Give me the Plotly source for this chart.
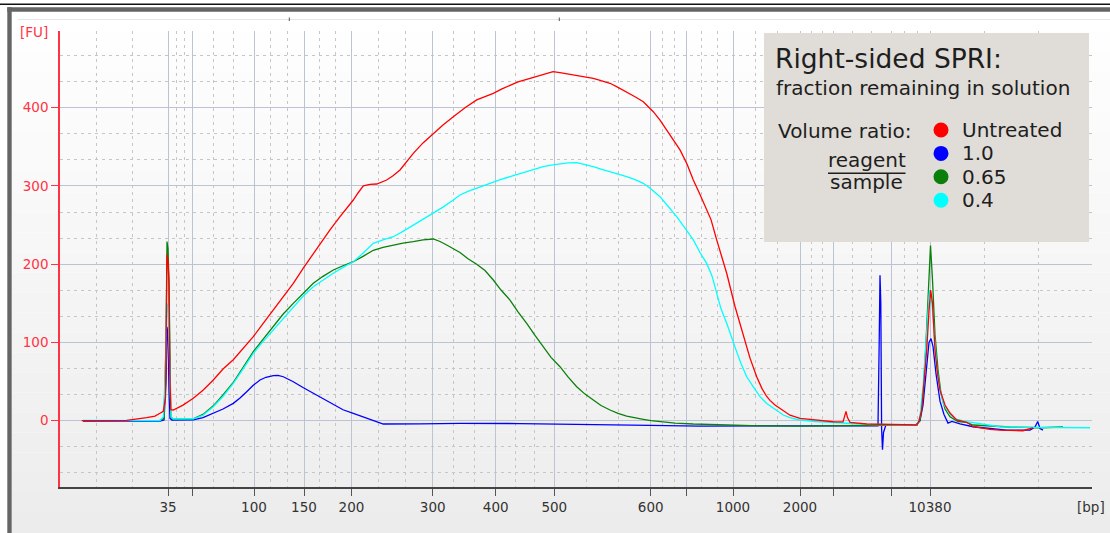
import plotly.graph_objects as go

# ---------------- data (migration time [s], fluorescence [FU]) ----------------
untreated = [(8.17,0),(10.0,0),(12.67,0.5),(14.67,3.9),(15.5,6),(16.0,9.5),(16.33,12),(16.55,30),(16.63,160),
    (16.7,212),(16.8,205),(16.9,175),(16.98,60),(17.08,14),(17.33,13.7),(18.3,20),(19.33,28.6),(20.3,39),(21.33,52),
    (22.3,66),(23.33,78),(24.3,92),(25.33,107.4),(26.3,124),(27.33,141.5),(28.3,158),(29.33,175.6),(30.33,195),
    (31.2,211),(32.0,226.7),(33.0,244),(34.0,260.7),(34.8,273),(35.33,282),(35.8,291),(36.33,300),(37.0,302),
    (37.67,302.5),(38.67,307.6),(39.3,313),(40.0,320.4),(40.6,330),(41.33,341.7),(42.3,355),(43.33,367.3),
    (44.3,378),(45.33,388.5),(46.5,400),(47.67,410),(48.5,414),(49.33,418.4),(50.2,424),(51.0,429),(51.8,433),
    (52.67,436.3),(53.6,440),(54.67,444),(55.3,446),(56.0,444.8),(56.8,443),(57.67,441.8),(58.5,440),(59.33,437.6),
    (60.1,434.5),(61.0,431.2),(61.8,426),(62.67,420.4),(63.5,414),(64.33,407.7),(65.33,394.9),(66.0,384),
    (66.67,371.5),(67.3,359),(68.0,346),(68.7,328),(69.33,307.6),(70.0,289),(70.67,269.3),(71.1,257),(71.67,231),
    (72.1,212),(72.67,188.4),(73.5,146),(74.1,120),(74.67,94.6),(75.0,80),(75.67,56.2),(76.2,41),(76.67,31),
    (77.0,26),(77.5,20),(78.0,15.8),(78.33,12),(79.0,7),(80.0,3.1),(81.5,1),(83.33,-1.3),(84.3,-1.5),(84.5,6),
    (84.6,12),(84.75,4),(85.0,-2),(86.67,-4.2),(89.0,-5),(91.0,-5.5),(91.7,-5.5),(91.9,0),(92.17,13.7),(92.4,50),
    (92.67,90),(92.9,140),(93.07,167),(93.25,150),(93.5,90),(93.75,60),(94.0,39),(94.5,20),(95.0,9.8),(95.67,1),
    (96.67,-2),(97.33,-7.7),(99.0,-11),(100.0,-11.9),(101.0,-12.5),(102.3,-12.8),(103.0,-10),(103.3,-9)]

ratio_1_0 = [(8.3,-0.5),(10.0,-0.5),(14.0,-0.8),(16.0,-0.4),(16.4,1),(16.6,50),(16.7,120),(16.8,110),(16.9,40),
    (17.0,3),(17.2,0.9),(19.33,1.2),(20.3,4),(21.33,9.5),(22.3,15),(23.33,22.2),(24.0,29),(24.67,37.1),(25.3,45),
    (26.0,52),(26.6,55.5),(27.33,57.5),(27.8,57.8),(28.33,56.2),(29.33,49.8),(30.3,42.5),(31.33,35),(32.3,27.5),
    (33.33,20),(34.3,14),(35.33,9.5),(36.3,5),(37.33,0.9),(37.8,-2),(38.33,-4.2),(42.0,-4),(46.0,-3.4),(52.0,-3.6),
    (56.0,-4.5),(60.0,-5.5),(65.0,-6),(70.0,-6.8),(76.0,-7),(80.0,-7),(85.0,-6.8),(87.8,-6.5),(87.92,100),
    (88.0,186),(88.08,150),(88.16,-10),(88.25,-37),(88.35,-15),(88.6,-5),(90.0,-5.5),(91.6,-5.5),(92.0,0),
    (92.3,20),(92.6,60),(92.9,100),(93.1,105),(93.3,95),(93.6,60),(94.0,25),(94.4,8),(94.8,-3),(95.2,-1),
    (96.0,-4),(97.3,-7.7),(99.0,-10),(100.67,-12),(103.0,-12),(103.5,-8),(103.77,-1),(104.0,-10),(104.3,-12)]

ratio_0_65 = [(8.3,0),(10.0,0),(14.0,0),(16.0,0.5),(16.4,3),(16.6,100),(16.7,229),(16.8,220),(16.9,178),
    (16.98,100),(17.08,5),(17.3,2),(19.33,2.5),(20.3,8),(21.33,19),(22.3,33),(23.33,49),(24.3,68),(25.33,88.2),
    (26.3,104),(27.33,120),(28.3,136),(29.33,150),(30.3,163),(31.33,175.6),(32.3,184.5),(33.33,192.6),(34.3,198),
    (35.33,203.2),(36.3,210),(37.33,217.8),(38.3,221.5),(39.33,224.5),(40.3,227),(41.33,228.8),(42.3,231),
    (43.33,232.2),(44.0,229),(44.67,224.5),(45.3,220),(46.0,215),(46.8,207),(47.67,200),(48.5,192),(49.33,179.8),
    (50.1,167),(51.0,154.2),(51.8,139),(52.67,124.5),(53.5,109),(54.33,94.6),(55.1,81),(56.0,69),(56.8,56),
    (57.67,43.5),(58.5,34),(59.33,26.5),(60.1,19.5),(61.0,13.7),(61.8,9.5),(62.67,6),(63.5,3.5),(64.33,1.8),
    (65.1,0),(66.0,-1.3),(67.5,-3),(69.33,-4.2),(72.0,-5.5),(76.0,-6.5),(80.0,-6.8),(85.0,-6.5),(90.0,-5.5),
    (91.6,-5.5),(92.0,0),(92.3,30),(92.6,100),(92.85,180),(93.05,224),(93.25,180),(93.5,110),(93.8,65),(94.1,35),
    (94.5,15),(95.0,5),(95.8,-1),(96.67,-2),(97.3,-5.5),(99.0,-7),(101.0,-8),(104.0,-9),(106.3,-8)]

ratio_0_4 = [(8.3,0.5),(10.0,0.5),(14.0,0),(16.0,0),(16.35,5),(16.55,70),(16.7,150),(16.8,145),(16.9,100),
    (17.0,30),(17.1,5.1),(17.33,2.2),(19.33,2.5),(20.3,7),(21.33,17.9),(22.3,31),(23.33,47.8),(24.3,66),
    (25.33,86.1),(26.3,101),(27.33,116),(28.3,131),(29.33,145.7),(30.3,159),(31.33,171.2),(32.3,180),
    (33.33,188.4),(34.3,196),(35.33,203.2),(36.3,214),(37.33,226.7),(38.3,231),(39.33,235.1),(40.3,242),
    (41.33,250.1),(42.3,258),(43.33,265),(44.3,273),(45.33,282),(46.0,288.4),(46.8,293),(47.67,297),(48.5,301),
    (49.33,305.4),(50.1,308.5),(51.0,311.8),(51.8,315),(52.67,318.2),(53.5,321.5),(54.33,324.6),(55.1,326.5),
    (56.0,328),(56.8,329.5),(57.67,329.7),(58.5,327.5),(59.33,324.6),(60.1,321.5),(61.0,318.2),(61.8,315),
    (62.67,311.8),(63.5,308),(64.33,303.4),(65.1,296),(66.0,286.3),(66.8,274),(67.67,260.7),(68.5,246),
    (69.33,231),(70.0,215),(70.67,201),(71.2,185),(71.67,162),(72.1,143),(72.67,124.5),(73.1,108),(73.67,88),
    (74.1,73),(74.67,56.2),(75.3,44),(76.0,30.7),(76.67,22),(77.67,13.7),(78.33,7.3),(79.0,4),(80.0,0.9),
    (81.5,-1),(83.33,-2.5),(86.6,-4.5),(90.0,-5.5),(91.7,-5.5),(92.0,5),(92.33,47.8),(92.65,110),(92.95,167),
    (93.2,150),(93.45,100),(93.67,69),(94.0,40),(94.33,22),(95.0,8),(95.6,2),(96.67,-1.3),(98.0,-4),
    (100.0,-7.7),(103.0,-8.5),(106.0,-9),(109.0,-9)]

# ladder positions (migration time) and their size labels [bp]
ladder_times = [16.8, 19.27, 25.4, 30.4, 35.15, 43.27, 49.57, 55.43, 65.07, 68.6, 73.3, 80.0, 83.33, 89.1, 93.0]
ladder_labels = ['35', '', '100', '150', '200', '300', '400', '500', '600', '', '1000', '2000', '', '', '10380']
fu_ticks = [0, 100, 200, 300, 400]

series_names = ['1.0', '0.65', '0.4', 'Untreated']
series_data = [ratio_1_0, ratio_0_65, ratio_0_4, untreated]
series_colors = ['#0000ff', '#0a800a', '#00ffff', '#ff0000']
legend_order = ['Untreated', '1.0', '0.65', '0.4']

# ---------------- layout geometry ----------------
W, H = 1110, 533
L, R, T, B = 60, 18, 31, 46
PW, PH = W - L - R, H - T - B
X_RANGE = [6.0, 109.2]
Y_RANGE = [-84.7, 498.0]


def px(x):
    return (x - L) / PW


def py(y):
    return (H - B - y) / PH


fig = go.Figure()
for name, data, color in zip(series_names, series_data, series_colors):
    fig.add_trace(go.Scatter(x=[p[0] for p in data], y=[p[1] for p in data], mode='lines', name=name,
                             line=dict(color=color, width=1.3), hoverinfo='skip'))

# minor grid: thirds of each ladder interval
edges = [X_RANGE[0]] + ladder_times + [X_RANGE[1]]
x_minor = []
for a, b in zip(edges[:-1], edges[1:]):
    x_minor += [a + (b - a) / 3, a + 2 * (b - a) / 3]
x_minor.append(X_RANGE[1] - 0.01)
y_minor = [k * 100 / 3 for k in range(-2, 15) if k % 3 != 0]

grid_major = '#bcc3d2'
grid_minor = '#c6c6c6'

shapes = []
# panel background gradient
n = 26
top, bot = 12, 533
for i in range(n):
    y0 = top + (bot - top) * i / n
    y1 = top + (bot - top) * (i + 1) / n
    c = int(round(255 - (255 - 236) * (i + 0.5) / n))
    shapes.append(dict(type='rect', xref='paper', yref='paper', x0=px(12), x1=px(W), y0=py(y1), y1=py(y0),
                       fillcolor=f'rgb({c},{c},{c})', line=dict(width=0), layer='below'))
# window frame
shapes.append(dict(type='rect', xref='paper', yref='paper', x0=px(0), x1=px(W), y0=py(5.0), y1=py(3.6),
                   fillcolor='#111111', line=dict(width=0), layer='below'))
shapes.append(dict(type='rect', xref='paper', yref='paper', x0=px(7.3), x1=px(W), y0=py(11.7), y1=py(7.3),
                   fillcolor='#656565', line=dict(width=0), layer='below'))
shapes.append(dict(type='rect', xref='paper', yref='paper', x0=px(7.3), x1=px(11.7), y0=py(H), y1=py(7.3),
                   fillcolor='#656565', line=dict(width=0), layer='below'))
shapes.append(dict(type='line', xref='paper', yref='paper', x0=px(18), x1=px(W), y0=py(19.5), y1=py(19.5),
                   line=dict(color='#e6e6e6', width=1), layer='below'))
for mx in (289.3, 559.3):
    shapes.append(dict(type='line', xref='paper', yref='paper', x0=px(mx), x1=px(mx), y0=py(21), y1=py(17.5),
                       line=dict(color='#555555', width=1), layer='below'))

# legend box
shapes.append(dict(type='rect', xref='paper', yref='paper', x0=px(764), x1=px(1089), y0=py(242), y1=py(33),
                   fillcolor='#e0dcd7', line=dict(width=0), layer='above'))
shapes.append(dict(type='line', xref='paper', yref='paper', x0=px(828), x1=px(905.5), y0=py(173.3), y1=py(173.3),
                   line=dict(color='#1e1e1e', width=1.5), layer='above'))
color_of = dict(zip(series_names, series_colors))
rx, ry = 7.5 / PW, 7.5 / PH
ann = []
for i, name in enumerate(legend_order):
    cy = 130 + i * 23.4
    shapes.append(dict(type='circle', xref='paper', yref='paper', x0=px(941) - rx, x1=px(941) + rx,
                       y0=py(cy) - ry, y1=py(cy) + ry, fillcolor=color_of[name], line=dict(width=0),
                       layer='above'))
    ann.append(dict(text=name, x=px(961), y=py(cy), xanchor='left', yanchor='middle'))

txt = '#1e1e1e'
ann_full = [
    dict(text='Right-sided SPRI:', x=px(774), y=py(59), xanchor='left', yanchor='middle', font=dict(size=26.5, color=txt)),
    dict(text='fraction remaining in solution', x=px(775), y=py(88), xanchor='left', yanchor='middle'),
    dict(text='Volume ratio:', x=px(777), y=py(130.7), xanchor='left', yanchor='middle'),
    dict(text='reagent', x=px(867), y=py(159.7), xanchor='center', yanchor='middle'),
    dict(text='sample', x=px(866), y=py(182), xanchor='center', yanchor='middle'),
] + ann
for a in ann_full:
    a.setdefault('font', dict(size=20, color=txt))
    a.update(xref='paper', yref='paper', showarrow=False, borderpad=0)
ann_full.append(dict(text='[FU]', x=px(50), y=py(31.5), xref='paper', yref='paper', xanchor='right',
                     yanchor='middle', showarrow=False, font=dict(size=13.5, color='#ff3344')))
ann_full.append(dict(text='[bp]', x=px(1091), y=py(507), xref='paper', yref='paper', xanchor='center',
                     yanchor='middle', showarrow=False, font=dict(size=13.5, color='#333333')))

fig.update_layout(
    width=W, height=H, margin=dict(l=L, r=R, t=T, b=B, pad=0, autoexpand=False),
    paper_bgcolor='white', plot_bgcolor='rgba(0,0,0,0)', showlegend=False,
    font=dict(family='DejaVu Sans'),
    shapes=shapes, annotations=ann_full,
    xaxis=dict(range=X_RANGE, tickmode='array', tickvals=ladder_times, ticktext=ladder_labels,
               ticks='outside', ticklen=7, tickwidth=1.2, tickcolor='#555555',
               showline=True, linecolor='#444444', linewidth=1.5,
               showgrid=True, gridcolor=grid_major, gridwidth=1.4, zeroline=False,
               tickfont=dict(size=13.5, color='#333333'),
               minor=dict(tickmode='array', tickvals=x_minor, showgrid=True, gridcolor=grid_minor,
                          griddash='3px,4px', gridwidth=1, ticks='')),
    yaxis=dict(range=Y_RANGE, tickmode='array', tickvals=fu_ticks,
               ticks='outside', ticklen=7, tickwidth=1.2, tickcolor='#ff3344',
               showline=True, linecolor='#ff3344', linewidth=1.5,
               showgrid=True, gridcolor=grid_major, gridwidth=1.4, zeroline=False,
               tickfont=dict(size=13.5, color='#ff3344'),
               minor=dict(tickmode='array', tickvals=y_minor, showgrid=True, gridcolor=grid_minor,
                          griddash='3px,4px', gridwidth=1, ticks='')),
)

fig.write_html('out.html', config={'displayModeBar': False},
               post_script="document.body.style.margin='0px';document.body.style.padding='0px';")
